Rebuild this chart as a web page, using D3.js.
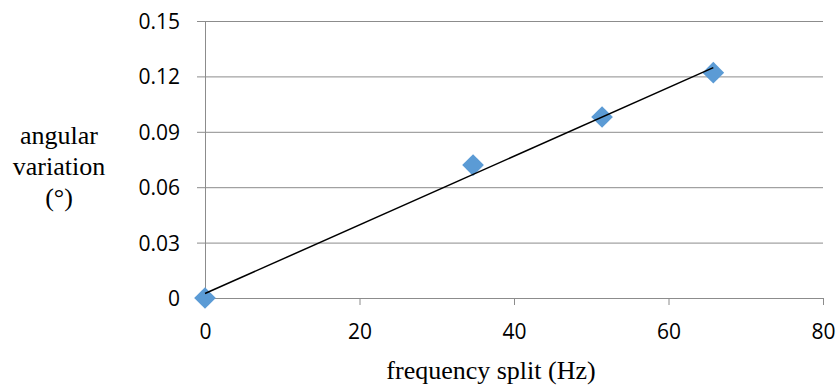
<!DOCTYPE html>
<html>
<head>
<meta charset="utf-8">
<script src="https://cdn.jsdelivr.net/npm/d3@7"></script>
<style>
  body { margin: 0; background: #fff; }
  .tick text { font-family: "Open Sans", sans-serif; font-size: 21px; fill: #000; }
  .title { font-family: "Liberation Serif", "Times New Roman", serif; font-size: 26px; fill: #000; }
</style>
</head>
<body>
<script>
// measured points
const freqSplit = [0, 34.7, 51.4, 65.8];
const angVar = [0, 0.072, 0.098, 0.122];
const xTicks = [0, 20, 40, 60, 80];
const yTicks = [0, 0.03, 0.06, 0.09, 0.12, 0.15];

const width = 839, height = 390;
const margin = {top: 21, right: 16, bottom: 92, left: 205};

const svg = d3.select('body').append('svg')
    .attr('width', width)
    .attr('height', height);

const x = d3.scaleLinear().domain([0, 80]).range([margin.left, width - margin.right]);
const y = d3.scaleLinear().domain([0, 0.15]).range([height - margin.bottom, margin.top]);

// gridlines
svg.append('g')
    .attr('transform', 'translate(' + margin.left + ',0)')
    .call(d3.axisLeft(y).tickValues(yTicks).tickSize(8)
      .tickFormat(d => d === 0 ? '0' : d3.format('.2f')(d)))
    .call(g => g.select('.domain').attr('stroke', '#8c8c8c'))
    .call(g => g.selectAll('.tick line').clone()
        .attr('x1', 0).attr('x2', x(80) - margin.left))
    .call(g => g.selectAll('.tick line').attr('stroke', '#8c8c8c'))
    .call(g => g.selectAll('.tick text').attr('x', -25).attr('dy', '0.36em'));

svg.append('g')
    .attr('transform', 'translate(0,' + y(0) + ')')
    .call(d3.axisBottom(x).tickValues(xTicks).tickSize(7))
    .call(g => g.select('.domain').attr('stroke', '#8c8c8c'))
    .call(g => g.selectAll('.tick line').attr('stroke', '#8c8c8c'))
    .call(g => g.selectAll('.tick text').attr('y', 26).attr('dy', '0.71em'));

// linear trendline (least squares)
const mx = d3.mean(freqSplit), my = d3.mean(angVar);
let sxy = 0, sxx = 0;
freqSplit.forEach((v, i) => { sxy += (v - mx) * (angVar[i] - my); sxx += (v - mx) * (v - mx); });
const slope = sxy / sxx, intercept = my - slope * mx;
const xEnds = [0, d3.max(freqSplit)];

const points = freqSplit.map((v, i) => ({f: v, a: angVar[i]}));

svg.selectAll('path.pt')
  .data(points)
  .join('path')
    .attr('class', 'pt')
    .attr('d', d3.symbol(d3.symbolDiamond2, 300))
    .attr('transform', d => 'translate(' + x(d.f) + ',' + y(d.a) + ')')
    .attr('fill', '#5b9bd5');

svg.append('path')
    .datum(xEnds)
    .attr('fill', 'none')
    .attr('stroke', '#000')
    .attr('stroke-width', 1.5)
    .attr('d', d3.line().x(d => x(d)).y(d => y(intercept + slope * d)));

// titles
svg.append('text')
    .attr('class', 'title')
    .attr('x', 491).attr('y', 379)
    .attr('text-anchor', 'middle')
    .text('frequency split (Hz)');

const yTitle = svg.append('text')
    .attr('class', 'title')
    .attr('text-anchor', 'middle');
['angular', 'variation', '(°)'].forEach((t, i) => {
  yTitle.append('tspan').attr('x', 59).attr('y', 144 + i * 31).text(t);
});
</script>
</body>
</html>
